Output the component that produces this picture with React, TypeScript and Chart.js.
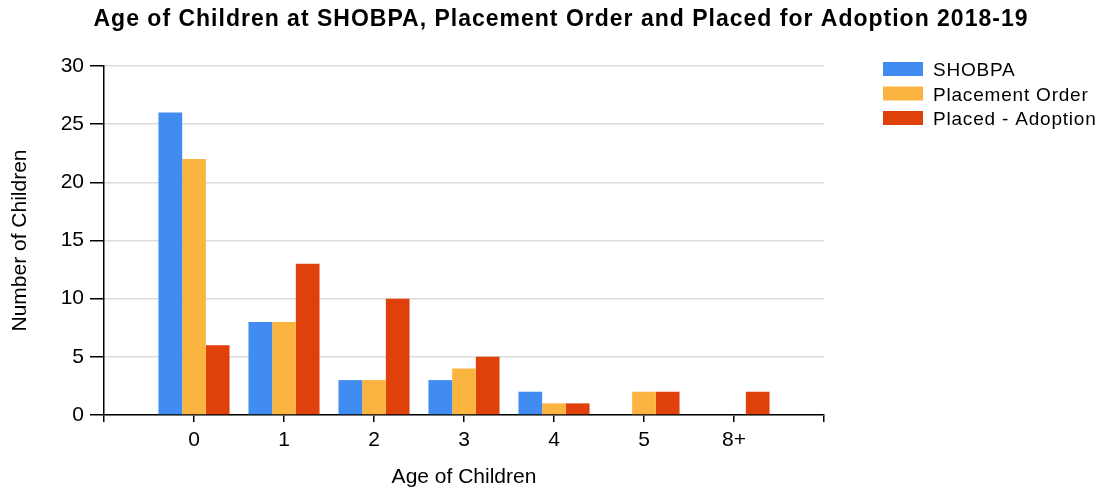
import React, { useEffect, useRef } from "react";
import { Chart, registerables } from "chart.js";

Chart.register(...registerables);

const chartTitle = "Age of Children at SHOBPA, Placement Order and Placed for Adoption 2018-19";
const categories = ["", "0", "1", "2", "3", "4", "5", "8+", ""];
const shobpa = [null, 26, 8, 3, 3, 2, 0, 0, null];
const placementOrder = [null, 22, 8, 3, 4, 1, 2, 0, null];
const placedAdoption = [null, 6, 13, 10, 5, 1, 2, 2, null];
const seriesNames = ["SHOBPA", "Placement Order", "Placed - Adoption"];
const seriesColors = ["#418CF0", "#FCB441", "#E0400A"];
const yTicks = [0, 5, 10, 15, 20, 25, 30];

const FONT = "'Liberation Sans', Arial, sans-serif";

const overlayPlugin = {
  id: "overlay",
  afterDraw(chart: any) {
    const ctx = chart.ctx;
    ctx.save();
    // title
    ctx.font = `bold 23px ${FONT}`;
    (ctx as any).letterSpacing = "1px";
    ctx.fillStyle = "#000";
    ctx.textAlign = "center";
    ctx.textBaseline = "alphabetic";
    ctx.fillText(chartTitle, 561, 26);
    // legend
    ctx.font = `19px ${FONT}`;
    (ctx as any).letterSpacing = "0.8px";
    ctx.textAlign = "left";
    chart.data.datasets.forEach((ds: any, i: number) => {
      const y = 62 + i * 24.5;
      ctx.fillStyle = ds.backgroundColor;
      ctx.fillRect(883, y, 40, 14);
      ctx.fillStyle = "#000";
      ctx.fillText(ds.label, 933, y + 14);
    });
    ctx.restore();
  },
};

export default function App() {
  const ref = useRef<HTMLCanvasElement>(null);
  useEffect(() => {
    document.body.style.margin = "0";
    const data = [shobpa, placementOrder, placedAdoption];
    const chart = new Chart(ref.current!, {
      type: "bar",
      data: {
        labels: categories,
        datasets: data.map((d, i) => ({
          label: seriesNames[i],
          data: d,
          backgroundColor: seriesColors[i],
          borderWidth: 0,
          categoryPercentage: 0.79,
          barPercentage: 1,
        })),
      },
      options: {
        animation: false,
        responsive: false,
        layout: { padding: { left: 0, right: 278, top: 66, bottom: 0 } },
        plugins: {
          legend: { display: false },
          title: { display: false },
          tooltip: { enabled: false },
        },
        scales: {
          x: {
            offset: false,
            grid: {
              offset: false,
              drawOnChartArea: false,
              drawTicks: true,
              tickLength: 7,
              tickColor: "#000",
              color: "#000",
              lineWidth: 1.5,
            },
            border: { display: true, color: "#000", width: 1.5 },
            ticks: {
              color: "#000",
              font: { family: FONT, size: 21 },
              padding: 6,
              maxRotation: 0,
              autoSkip: false,
            },
            title: {
              display: true,
              text: "Age of Children",
              color: "#000",
              font: { family: FONT, size: 21 },
              padding: { top: 0, bottom: 0 },
            },
            afterFit(scale: any) {
              scale.height = 75;
            },
          },
          y: {
            min: 0,
            max: 30,
            afterBuildTicks(scale: any) {
              scale.ticks = yTicks.map((v) => ({ value: v }));
            },
            grid: {
              color: "#DCDCDC",
              lineWidth: 1.5,
              drawTicks: true,
              tickLength: 14,
              tickColor: "#000",
            },
            border: { display: true, color: "#000", width: 1.5 },
            ticks: {
              color: "#000",
              font: { family: FONT, size: 21 },
              padding: 6,
            },
            title: {
              display: true,
              text: "Number of Children",
              color: "#000",
              font: { family: FONT, size: 21 },
              padding: { top: 8, bottom: 0 },
            },
            afterFit(scale: any) {
              scale.width = 104;
            },
          },
        },
      },
      plugins: [overlayPlugin],
    });
    return () => chart.destroy();
  }, []);
  return (
    <div style={{ width: 1102, height: 490, background: "#fff" }}>
      <canvas ref={ref} width={1102} height={490} style={{ display: "block" }} />
    </div>
  );
}
